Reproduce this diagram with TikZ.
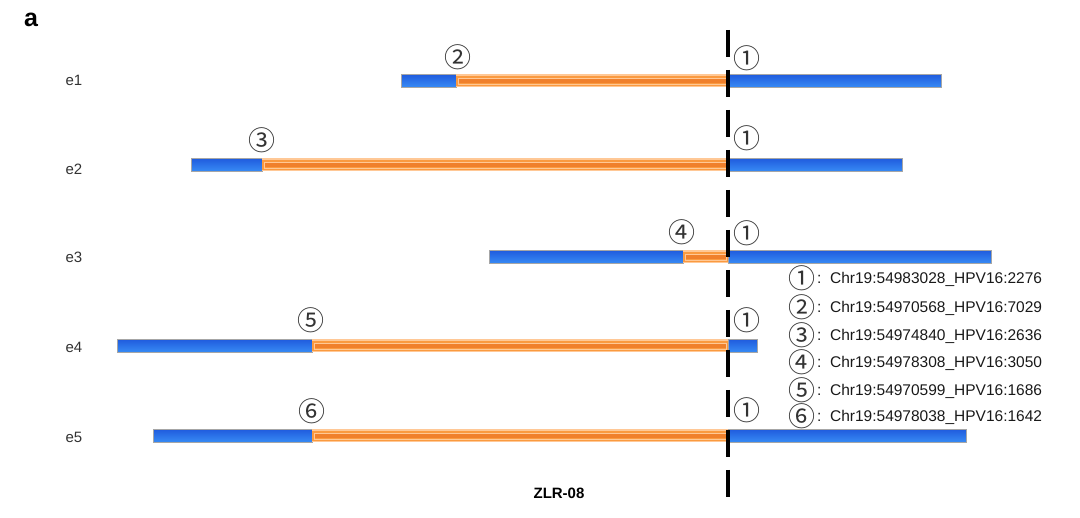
\documentclass[tikz,border=0pt]{standalone}
\usepackage{fontspec}
\setmainfont{Liberation Sans}
\newfontfamily\symfont{Noto Sans CJK JP}
\definecolor{bluetop}{RGB}{32,92,222}
\definecolor{bluebot}{RGB}{56,140,245}
\definecolor{oranglight}{RGB}{255,200,150}
\definecolor{orangmid}{RGB}{250,154,64}
\definecolor{orangdark}{RGB}{240,128,44}
\definecolor{labgray}{RGB}{50,50,50}
\tikzset{
  bluebar/.style={top color=bluetop, bottom color=bluebot, draw=gray!70, line width=0.6pt},
  circnum/.style={font=\symfont\fontsize{27}{27}\selectfont, text=black!80, inner sep=0pt},
  rowlab/.style={font=\fontsize{15}{15}\selectfont, text=labgray, anchor=center},
  legtext/.style={font=\fontsize{15.5}{16}\selectfont, text=black!90, anchor=west, inner sep=0pt},
  dashline/.style={line width=3.3pt, dash pattern=on 27pt off 13pt}
}
% #1 y-centre, #2 left, #3 orange start, #4 orange end, #5 right end
\newcommand\dnabar[5]{%
  \filldraw[bluebar] (#2,#1-6.5) rectangle (#3,#1+6.5);
  \filldraw[bluebar] (#4,#1-6.5) rectangle (#5,#1+6.5);
  \fill[oranglight] (#3,#1-6.5) rectangle (#4,#1+6.5);
  \fill[orangmid] (#3,#1-5) rectangle (#4,#1+5);
  \draw[oranglight, line width=0.5pt] (#3+2,#1-2.8) rectangle (#4-2,#1+2.8);
  \fill[orangdark] (#3+2.5,#1-1.8) rectangle (#4-2.5,#1+1.8);
}
\begin{document}
\begin{tikzpicture}[x=1pt,y=-1pt]
\useasboundingbox (0,0) rectangle (1080,518);
\node[font=\bfseries\fontsize{25}{25}\selectfont, anchor=center] (panel) at (31,20) {a};

\node[rowlab] (e1) at (74,80) {e1};
\node[rowlab] (e2) at (74,169) {e2};
\node[rowlab] (e3) at (74,257) {e3};
\node[rowlab] (e4) at (74,347) {e4};
\node[rowlab] (e5) at (74,437) {e5};

\dnabar{81}{401}{456}{728}{941}
\dnabar{165}{191}{262}{728}{902}
\dnabar{257}{489}{683}{728}{991}
\dnabar{346}{117}{312}{728}{757}
\dnabar{436}{153}{312}{728}{966}

\coordinate (dtop) at (728,30);
\coordinate (dbot) at (728,497);
\draw[dashline] (dtop) -- (dbot);

\node[circnum] (c2) at (458,57) {②};
\node[circnum] (c3) at (262,140) {③};
\node[circnum] (c4) at (682,232) {④};
\node[circnum] (c5) at (311,320) {⑤};
\node[circnum] (c6) at (312,411) {⑥};
\node[circnum] (a1) at (747,58) {①};
\node[circnum] (b1) at (747,138) {①};
\node[circnum] (d1) at (747,233) {①};
\node[circnum] (f1) at (747,320) {①};
\node[circnum] (g1) at (747,410) {①};

\node[circnum] (l1) at (802,278) {①};
\node[circnum] (l2) at (802,307) {②};
\node[circnum] (l3) at (802,335) {③};
\node[circnum] (l4) at (802,362) {④};
\node[circnum] (l5) at (802,390) {⑤};
\node[circnum] (l6) at (802,416) {⑥};
\node[legtext] (t1) at (817,279) {:\ \ Chr19:54983028\_HPV16:2276};
\node[legtext] (t2) at (817,308) {:\ \ Chr19:54970568\_HPV16:7029};
\node[legtext] (t3) at (817,336) {:\ \ Chr19:54974840\_HPV16:2636};
\node[legtext] (t4) at (817,363) {:\ \ Chr19:54978308\_HPV16:3050};
\node[legtext] (t5) at (817,391) {:\ \ Chr19:54970599\_HPV16:1686};
\node[legtext] (t6) at (817,417) {:\ \ Chr19:54978038\_HPV16:1642};

\node[font=\bfseries\fontsize{15}{15}\selectfont, anchor=center] (title) at (559,493) {ZLR-08};
\end{tikzpicture}
\end{document}
